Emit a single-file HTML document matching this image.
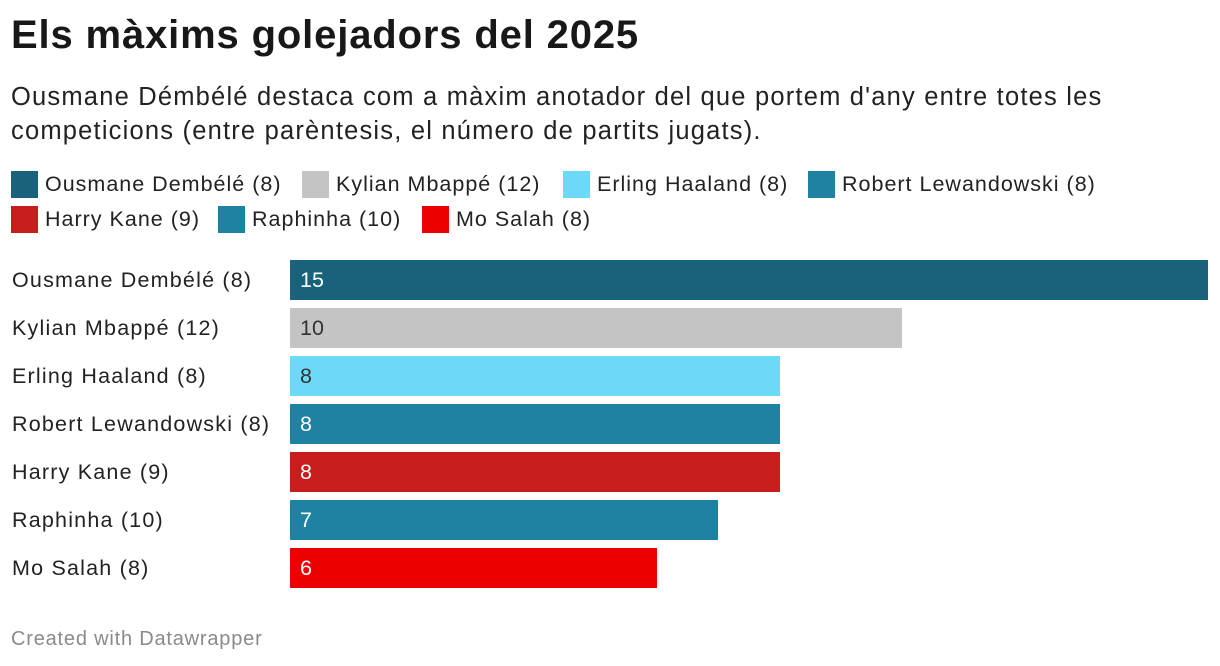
<!DOCTYPE html>
<html><head><meta charset="utf-8">
<style>
body{margin:0;width:1220px;height:666px;background:#fff;font-family:"Liberation Sans",sans-serif;color:#222;overflow:hidden;position:relative}
.t{position:absolute;left:11px;top:13px;font-size:40px;font-weight:bold;color:#181818;letter-spacing:0.85px}
.s{position:absolute;left:11px;top:80px;font-size:25.5px;line-height:34px;color:#222;width:1210px;letter-spacing:1.2px;white-space:nowrap}
.lg{position:absolute;font-size:21.5px;display:flex;align-items:center;color:#222;letter-spacing:1px;white-space:nowrap}
.sw{width:27px;height:27px;margin-right:7px}
.f{position:absolute;left:11px;top:628px;font-size:20px;color:#8a8a8a;letter-spacing:0.8px}
.lab{position:absolute;left:12px;font-size:21.5px;color:#222;letter-spacing:1.2px;white-space:nowrap}
.bar{position:absolute;left:290px;height:40px}
.val{position:absolute;font-size:21.5px}
</style></head><body>
<div class="t">Els màxims golejadors del 2025</div>
<div class="s">Ousmane Démbélé destaca com a màxim anotador del que portem d'any entre totes les<br>competicions (entre parèntesis, el número de partits jugats).</div>
<div id="legend"></div>
<div id="chart"></div>
<div class="f">Created with Datawrapper</div>
<script>
const categories=["Ousmane Dembélé (8)","Kylian Mbappé (12)","Erling Haaland (8)","Robert Lewandowski (8)","Harry Kane (9)","Raphinha (10)","Mo Salah (8)"];
const values=[15,10,8,8,8,7,6];
const colors=["#18627b","#c4c4c4","#6bd9f7","#1f82a3","#c71e1d","#1f82a3","#ee0000"];
const textColors=["#fff","#333","#333","#fff","#fff","#fff","#fff"];
const x0=290, xMax=15, xW=918;
const xs=v=>v/xMax*xW;
const legendPos=[[11,171],[302,171],[563,171],[808,171],[11,206],[218,206],[422,206]];
const lg=document.getElementById('legend');
categories.forEach((c,i)=>{
  const d=document.createElement('div');d.className='lg';
  
  
  d.style.left=legendPos[i][0]+'px';d.style.top=legendPos[i][1]+'px';
  d.innerHTML='<div class="sw" style="background:'+colors[i]+'"></div>'+c;
  lg.appendChild(d);
});
const ch=document.getElementById('chart');
categories.forEach((c,i)=>{
  const top=260+i*48;
  const l=document.createElement('div');l.className='lab';
  
  
  l.style.top=(top+8)+'px';l.textContent=c;ch.appendChild(l);
  const b=document.createElement('div');b.className='bar';
  
  
  b.style.top=top+'px';b.style.width=xs(values[i])+'px';b.style.background=colors[i];ch.appendChild(b);
  const v=document.createElement('div');v.className='val';
  
  
  v.style.left=(x0+10)+'px';v.style.top=(top+8)+'px';v.style.color=textColors[i];v.textContent=values[i];ch.appendChild(v);
});
</script>
</body></html>
